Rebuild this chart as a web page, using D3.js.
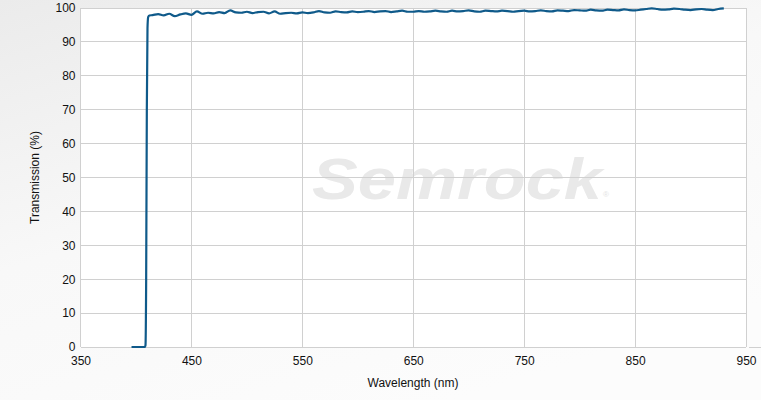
<!DOCTYPE html>
<html>
<head>
<meta charset="utf-8">
<script src="https://cdn.jsdelivr.net/npm/d3@7"></script>
<style>
  html, body { margin: 0; padding: 0; background: #fff; }
  svg { display: block; font-family: "Liberation Sans", Arial, sans-serif; }
</style>
</head>
<body>
<svg id="chart" width="761" height="400"></svg>
<script>
// ---- data ----
const xTicks = [350, 450, 550, 650, 750, 850, 950];
const yTicks = [0, 10, 20, 30, 40, 50, 60, 70, 80, 90, 100];
const xGrid = [450, 550, 650, 750, 850];

const edgeWavelength = [396, 408, 408.6, 409.2, 409.8, 410.4, 411, 412];
const edgeTransmission = [0, 0, 0.5, 20, 70, 94, 97.3, 97.8];

const wavelength = [415,420,425,430,435,440,445,450,455,460,465,470,475,480,485,490,495,500,
  505,510,515,520,525,530,535,540,545,550,555,560,565,570,575,580,585,590,595,600,
  605,610,615,620,625,630,635,640,645,650,655,660,665,670,675,680,685,690,695,700,
  705,710,715,720,725,730,735,740,745,750,755,760,765,770,775,780,785,790,795,800,
  805,810,815,820,825,830,835,840,845,850,855,860,865,870,875,880,885,890,895,900,
  905,910,915,920,925,930];
const transmission = [97.9,98.2,97.8,98.3,97.6,98.1,98.4,98.0,99.0,98.3,98.6,98.4,98.8,98.5,99.3,98.7,98.6,98.9,
  98.5,98.8,98.9,98.4,99.0,98.3,98.5,98.6,98.4,98.7,98.5,98.7,99.1,98.7,98.6,99.0,98.8,98.7,99.0,98.8,
  98.9,99.1,98.8,99.0,99.1,98.8,99.0,99.2,98.9,98.9,99.1,98.9,99.0,99.2,99.0,98.9,99.2,99.0,99.1,99.3,
  99.0,98.9,99.2,99.1,99.0,99.2,99.1,98.9,99.1,99.2,99.0,99.1,99.3,99.1,99.0,99.3,99.2,99.1,99.4,99.3,
  99.2,99.5,99.3,99.2,99.5,99.4,99.3,99.6,99.4,99.3,99.5,99.7,99.9,99.7,99.5,99.6,99.8,99.7,99.5,99.4,
  99.6,99.7,99.5,99.4,99.7,99.9];

// ---- layout ----
const svg = d3.select("#chart");
const W = 761, H = 400;
const m = { left: 80.5, right: 746, top: 8, bottom: 347 };

const x = d3.scaleLinear().domain([350, 950]).range([m.left, m.right]);
const y = d3.scaleLinear().domain([0, 100]).range([m.bottom, m.top]);

// background gradient
const defs = svg.append("defs");
const bg = defs.append("linearGradient").attr("id", "bg")
  .attr("x1", "0").attr("y1", "0").attr("x2", "0.6").attr("y2", "1");
bg.append("stop").attr("offset", "0").attr("stop-color", "#ebebeb");
bg.append("stop").attr("offset", "0.5").attr("stop-color", "#f8f8f8");
bg.append("stop").attr("offset", "1").attr("stop-color", "#fcfcfc");
svg.append("rect").attr("width", W).attr("height", H).attr("fill", "url(#bg)");

// plot area
svg.append("rect")
  .attr("x", m.left).attr("y", m.top)
  .attr("width", m.right - m.left).attr("height", m.bottom - m.top)
  .attr("fill", "#fff");

// watermark
const wm = svg.append("g").attr("class", "watermark");
const rainbow = defs.append("linearGradient").attr("id", "rb").attr("x1", "0").attr("x2", "1");
[["0", "#ffffff"], ["0.25", "#e6e6fa"], ["0.4", "#d8ecf8"], ["0.55", "#e4f6dc"], ["0.7", "#fbf6d6"], ["0.85", "#fbe0e0"], ["1", "#fde6e6"]]
  .forEach(([o, c]) => rainbow.append("stop").attr("offset", o).attr("stop-color", c));
[158, 163, 168].forEach(yy => {
  wm.append("line").attr("x1", 300).attr("x2", 575).attr("y1", yy).attr("y2", yy)
    .attr("stroke", "url(#rb)").attr("stroke-width", 2.5);
});
wm.append("text")
  .attr("x", 312).attr("y", 199)
  .attr("font-size", 58).attr("font-style", "italic").attr("font-weight", "bold")
  .attr("fill", "#e9e9e9")
  .attr("textLength", 290).attr("lengthAdjust", "spacingAndGlyphs")
  .text("Semrock");
wm.append("text")
  .attr("x", 603).attr("y", 197)
  .attr("font-size", 8).attr("fill", "#e4e4e4").text("®");

// grid
const grid = svg.append("g").attr("stroke", "#d0d0d0").attr("stroke-width", 1).attr("shape-rendering", "crispEdges");
yTicks.forEach(t => grid.append("line")
  .attr("x1", m.left).attr("x2", m.right).attr("y1", y(t)).attr("y2", y(t)));
xGrid.forEach(t => grid.append("line")
  .attr("x1", x(t)).attr("x2", x(t)).attr("y1", m.top).attr("y2", m.bottom));
grid.append("line").attr("x1", m.left).attr("x2", m.left).attr("y1", m.top).attr("y2", m.bottom);
grid.append("line").attr("x1", m.right).attr("x2", m.right).attr("y1", m.top).attr("y2", m.bottom);
grid.append("line").attr("x1", m.right + 3).attr("x2", W).attr("y1", m.bottom).attr("y2", m.bottom);

// axes (labels only)
const xAxis = svg.append("g").attr("transform", `translate(0,${m.bottom})`)
  .call(d3.axisBottom(x).tickValues(xTicks).tickSize(0).tickPadding(9).tickFormat(d3.format("d")));
xAxis.select(".domain").remove();
xAxis.selectAll("text").attr("font-size", 12).attr("fill", "#111")
  .attr("font-family", "'Liberation Sans', Arial, sans-serif");

const yAxis = svg.append("g").attr("transform", `translate(${m.left},0)`)
  .call(d3.axisLeft(y).tickValues(yTicks).tickSize(0).tickPadding(5).tickFormat(d3.format("d")));
yAxis.select(".domain").remove();
yAxis.selectAll("text").attr("font-size", 12).attr("fill", "#111")
  .attr("font-family", "'Liberation Sans', Arial, sans-serif");

// axis titles
svg.append("text")
  .attr("x", 413).attr("y", 387).attr("text-anchor", "middle")
  .attr("font-size", 12).attr("fill", "#111").text("Wavelength (nm)");
svg.append("text")
  .attr("transform", `translate(39,${(m.top + m.bottom) / 2}) rotate(-90)`)
  .attr("text-anchor", "middle")
  .attr("font-size", 12).attr("fill", "#111").text("Transmission (%)");

// line
const data = edgeWavelength.map((w, i) => ({ w, t: edgeTransmission[i] }))
  .concat(wavelength.map((w, i) => ({ w, t: transmission[i] })));
const line = d3.line().x(d => x(d.w)).y(d => y(d.t)).curve(d3.curveMonotoneX);
svg.append("path").datum(data)
  .attr("d", line)
  .attr("fill", "none")
  .attr("stroke", "#0f5a8a")
  .attr("stroke-width", 2.2)
  .attr("stroke-linejoin", "round");
</script>
</body>
</html>
